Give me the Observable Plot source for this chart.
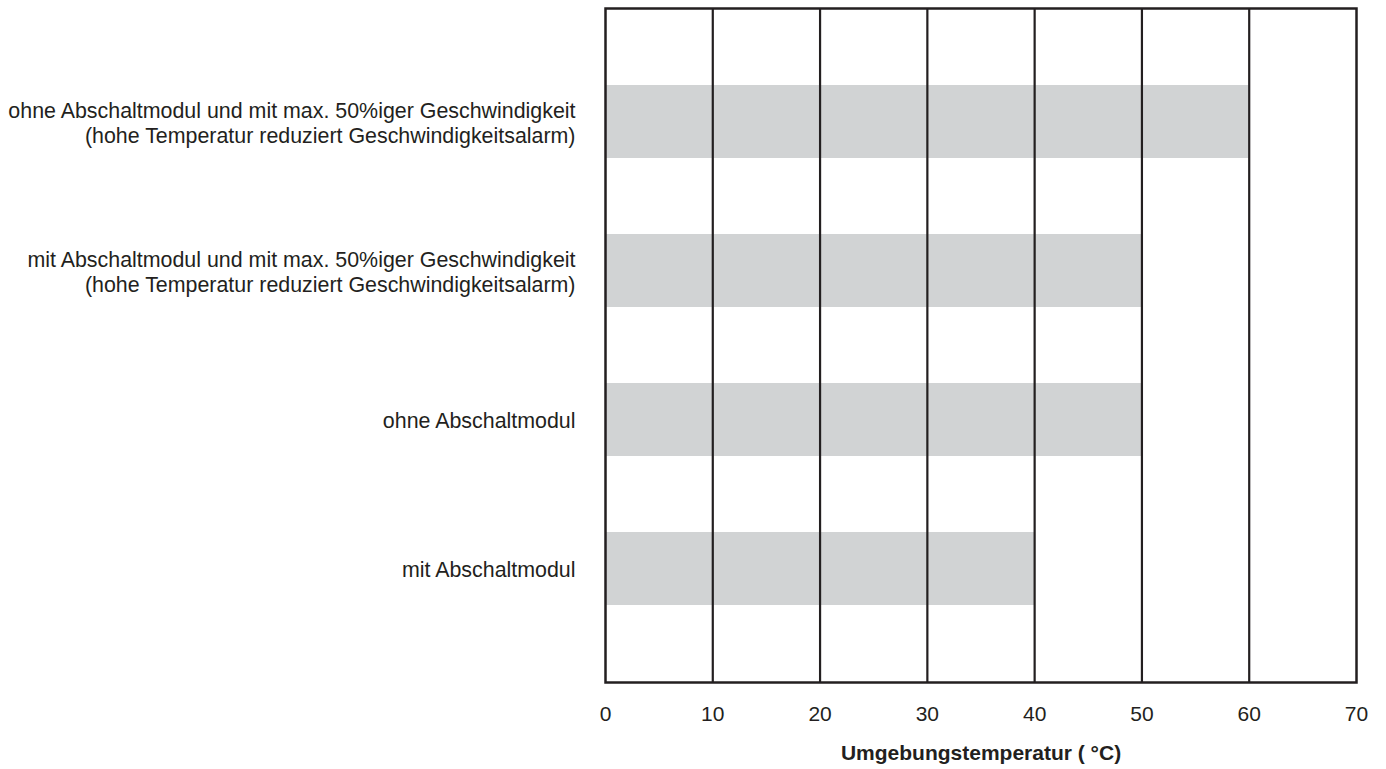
<!DOCTYPE html>
<html>
<head>
<meta charset="utf-8">
<script src="https://cdn.jsdelivr.net/npm/d3@7"></script>
<script src="https://cdn.jsdelivr.net/npm/@observablehq/plot@0.6"></script>
<style>
  html, body { margin: 0; padding: 0; background: #fff; }
  #chart svg { display: block; }
</style>
</head>
<body>
<div id="chart"></div>
<script>
const categories = [
  "ohne Abschaltmodul und mit max. 50%iger Geschwindigkeit\n(hohe Temperatur reduziert Geschwindigkeitsalarm)",
  "mit Abschaltmodul und mit max. 50%iger Geschwindigkeit\n(hohe Temperatur reduziert Geschwindigkeitsalarm)",
  "ohne Abschaltmodul",
  "mit Abschaltmodul"
];
const maxTemps = [60, 50, 50, 40];
const xTicks = [0, 10, 20, 30, 40, 50, 60, 70];
const gridLines = [10, 20, 30, 40, 50, 60];
const xLabel = "Umgebungstemperatur ( °C)";

const data = categories.map((c, i) => ({category: c, value: maxTemps[i]}));
const ink = "#231f20";

const chart = Plot.plot({
  width: 1386,
  height: 769,
  marginLeft: 605,
  marginRight: 30,
  marginTop: 8,
  marginBottom: 87,
  style: {fontFamily: "Arial, 'Liberation Sans', sans-serif", color: ink, background: "#fff"},
  x: {domain: [0, 70], ticks: xTicks},
  y: {domain: categories, padding: 0.51},
  marks: [
    Plot.barX(data, {x1: 0, x2: "value", y: "category", fill: "#d1d3d4"}),
    Plot.ruleX(gridLines, {stroke: ink, strokeWidth: 2.2}),
    Plot.frame({stroke: ink, strokeWidth: 2.5}),
    Plot.axisX(xTicks, {tickSize: 0, tickPadding: 24, fontSize: 21, fill: ink, label: null}),
    Plot.text([xLabel], {frameAnchor: "bottom", lineAnchor: "middle", dy: 71, fontSize: 21, fontWeight: "bold", fill: ink}),
    Plot.text(data, {y: "category", text: "category", frameAnchor: "left", dx: -30, textAnchor: "end", fontSize: 21.4, lineHeight: 1.17, fill: ink}),
    Plot.axisY({ticks: [], label: null})
  ]
});
document.getElementById("chart").append(chart);
</script>
</body>
</html>
